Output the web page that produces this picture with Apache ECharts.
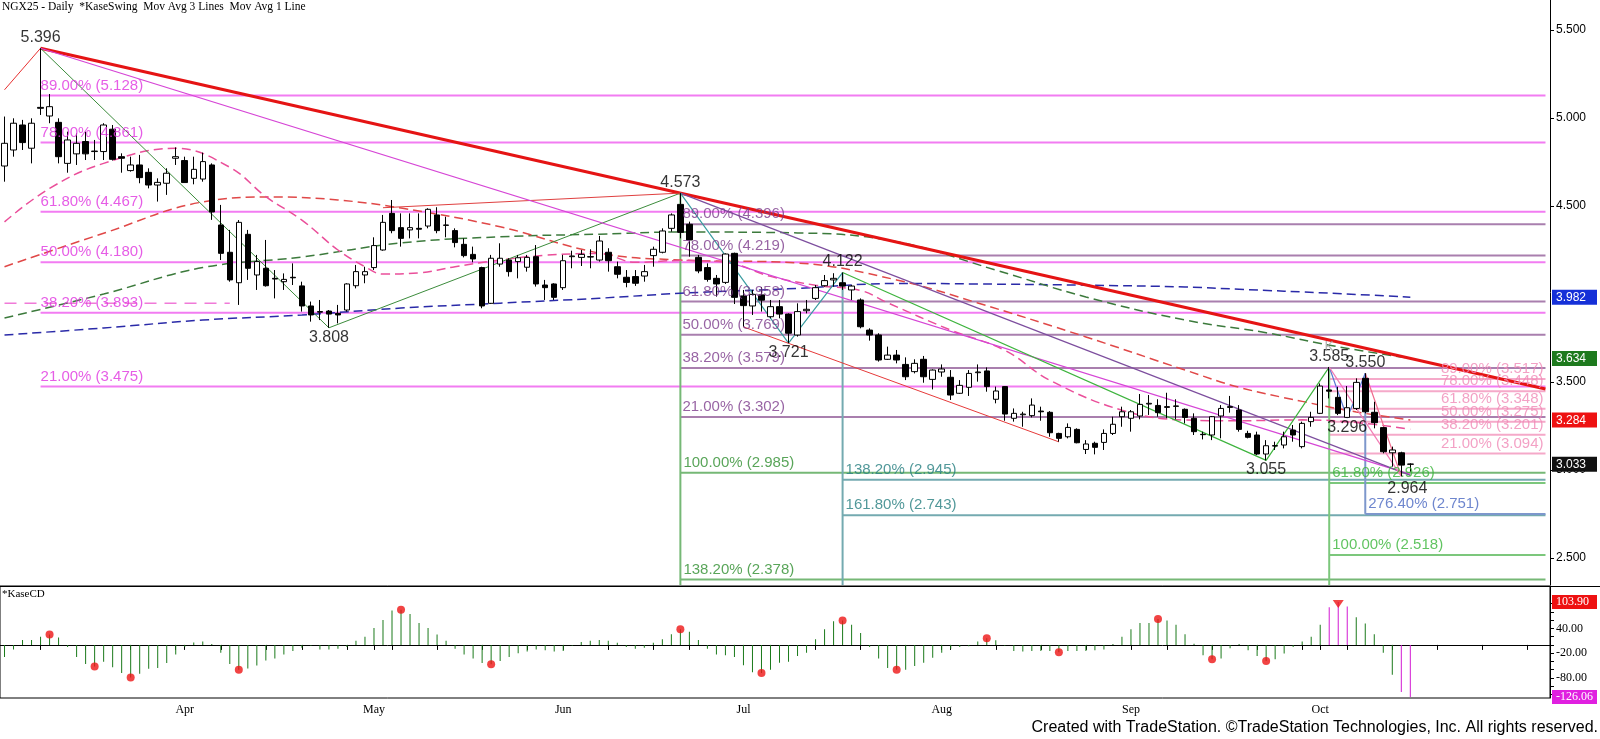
<!DOCTYPE html>
<html>
<head>
<meta charset="utf-8">
<title>NGX25 Daily</title>
<script src="https://cdn.jsdelivr.net/npm/echarts@6.0.0/dist/echarts.min.js"></script>
<style>
html,body{margin:0;padding:0;background:#fff;}
#chart{width:1600px;height:739px;}
</style>
</head>
<body>
<div id="chart"></div>
<script>
// ================= DATA =================
const SLOT_COUNT = 172;          // trading-day slots on the x axis (incl. empty future space)
const LAST_SLOT = 171;
const monthStartIdx = [20, 41, 62, 82, 104, 125, 146];
const monthNames = ['Apr', 'May', 'Jun', 'Jul', 'Aug', 'Sep', 'Oct'];
const weekStartIdx = [4,9,14,19,24,29,33,38,43,48,53,58,62,67,72,76,81,85,90,95,100,105,110,115,120,125,129,134,139,144,149,154,159,164,169];

const opens = [4.727,4.818,4.960,4.828,5.060,5.011,4.975,4.742,4.796,4.866,
4.809,4.809,4.936,4.780,4.701,4.733,4.691,4.619,4.629,4.771,
4.758,4.657,4.653,4.733,4.392,4.237,4.064,4.339,4.108,4.146,
4.089,4.070,4.095,4.046,3.932,3.900,3.903,3.890,3.909,4.047,
4.108,4.150,4.250,4.458,4.377,4.364,4.373,4.386,4.449,4.392,
4.360,4.282,4.225,4.150,3.947,4.170,4.193,4.184,4.152,4.212,
4.051,4.057,4.036,4.212,4.208,4.212,4.193,4.237,4.155,4.095,
4.099,4.102,4.218,4.237,4.373,4.509,4.396,4.208,4.150,4.089,
4.066,4.231,3.989,3.932,3.995,3.871,3.928,3.886,3.767,3.905,
3.975,4.047,4.080,4.064,4.023,3.966,3.795,3.767,3.629,3.653,
3.600,3.559,3.629,3.515,3.557,3.527,3.436,3.470,3.553,3.563,
3.402,3.474,3.294,3.314,3.309,3.335,3.328,3.208,3.189,3.231,
3.117,3.152,3.157,3.208,3.303,3.294,3.307,3.375,3.367,3.360,
3.364,3.345,3.294,3.203,3.199,3.307,3.360,3.341,3.208,3.199,
3.091,3.136,3.142,3.227,3.133,3.275,3.322,3.455,3.413,3.299,
3.350,3.521,3.328,3.241,3.098,3.098,3.034];
const highs = [5.008,4.998,4.989,4.998,5.396,5.136,4.998,4.922,4.913,4.922,
4.875,4.970,4.960,4.799,4.780,4.790,4.714,4.657,4.714,4.833,
4.780,4.780,4.803,4.742,4.506,4.364,4.420,4.364,4.222,4.307,
4.136,4.117,4.174,4.070,3.957,3.966,3.909,3.938,4.061,4.165,
4.155,4.322,4.449,4.534,4.458,4.458,4.458,4.487,4.493,4.439,
4.373,4.316,4.269,4.155,4.222,4.288,4.203,4.222,4.222,4.278,
4.080,4.061,4.222,4.246,4.250,4.254,4.330,4.260,4.184,4.136,
4.136,4.165,4.269,4.373,4.458,4.573,4.411,4.222,4.174,4.108,
4.231,4.235,4.023,4.023,4.040,3.966,3.966,3.890,3.947,3.966,
4.051,4.108,4.118,4.122,4.051,3.975,3.805,3.777,3.701,3.682,
3.640,3.629,3.648,3.572,3.600,3.568,3.511,3.568,3.600,3.583,
3.474,3.477,3.350,3.331,3.407,3.360,3.335,3.212,3.265,3.237,
3.170,3.161,3.231,3.303,3.360,3.341,3.432,3.426,3.402,3.439,
3.402,3.350,3.322,3.218,3.307,3.369,3.421,3.369,3.223,3.218,
3.170,3.161,3.218,3.256,3.275,3.331,3.492,3.585,3.473,3.477,
3.521,3.550,3.388,3.246,3.133,3.104,3.038];
const lows = [4.638,4.780,4.818,4.742,5.017,4.970,4.742,4.689,4.733,4.761,
4.761,4.761,4.758,4.689,4.695,4.629,4.600,4.525,4.563,4.733,
4.633,4.623,4.638,4.421,4.193,4.070,3.938,4.080,4.023,4.042,
3.975,4.023,4.051,3.900,3.843,3.852,3.808,3.833,3.900,4.032,
4.061,4.136,4.246,4.345,4.269,4.316,4.316,4.373,4.345,4.322,
4.265,4.208,4.180,3.919,3.943,4.155,4.099,4.089,4.127,4.042,
3.966,3.966,4.023,4.146,4.159,4.146,4.184,4.127,4.089,4.038,
4.046,4.070,4.155,4.231,4.354,4.316,4.212,4.118,4.070,3.985,
4.057,3.943,3.814,3.881,3.900,3.862,3.862,3.721,3.758,3.890,
3.966,4.042,4.042,4.023,3.966,3.805,3.735,3.616,3.625,3.606,
3.511,3.549,3.496,3.458,3.530,3.398,3.432,3.421,3.502,3.445,
3.379,3.280,3.275,3.246,3.299,3.280,3.189,3.161,3.180,3.152,
3.091,3.089,3.114,3.199,3.246,3.218,3.288,3.313,3.303,3.294,
3.288,3.265,3.199,3.174,3.170,3.180,3.326,3.218,3.180,3.085,
3.055,3.114,3.123,3.161,3.123,3.246,3.318,3.407,3.312,3.296,
3.341,3.322,3.237,3.095,3.019,2.964,2.990];
const closes = [4.856,4.970,4.860,4.970,5.055,5.064,4.780,4.875,4.856,4.796,
4.812,4.960,4.765,4.771,4.733,4.661,4.619,4.634,4.686,4.780,
4.633,4.708,4.752,4.466,4.231,4.080,4.407,4.146,4.184,4.047,
4.085,4.083,4.092,3.932,3.881,3.897,3.886,3.881,4.057,4.127,
4.127,4.275,4.407,4.360,4.316,4.377,4.368,4.481,4.360,4.390,
4.292,4.218,4.199,3.932,4.203,4.203,4.127,4.206,4.208,4.057,
4.036,3.981,4.189,4.216,4.225,4.210,4.301,4.189,4.112,4.066,
4.061,4.127,4.254,4.358,4.449,4.350,4.307,4.131,4.083,4.057,
4.227,3.981,3.934,3.998,3.965,3.928,3.886,3.777,3.900,3.913,
4.036,4.076,4.089,4.045,4.045,3.814,3.767,3.625,3.653,3.625,
3.530,3.606,3.530,3.568,3.574,3.426,3.481,3.549,3.557,3.474,
3.449,3.318,3.322,3.318,3.369,3.331,3.212,3.180,3.242,3.155,
3.148,3.129,3.208,3.260,3.331,3.331,3.373,3.379,3.326,3.356,
3.362,3.299,3.218,3.201,3.303,3.350,3.356,3.231,3.186,3.091,
3.138,3.139,3.189,3.199,3.265,3.299,3.477,3.448,3.322,3.354,
3.498,3.331,3.269,3.104,3.114,3.028,3.033];

// moving averages, [slot, value]
const maPink  = [[0,4.41],[5,4.60],[11,4.742],[19,4.828],[25,4.72],[29,4.553],[33,4.42],[37,4.25],[40,4.155],[42,4.113],[46,4.12],[50,4.155],[55,4.193],[60,4.22],[66,4.23],[70,4.18],[75,4.19],[80,4.18],[85,4.10],[90,4.05],[95,4.02],[98,3.95],[105,3.795],[111,3.68],[116,3.51],[124,3.34],[131,3.284],[137,3.28],[144,3.285],[150,3.27],[156,3.232]];
const maRed   = [[0,4.155],[11,4.345],[22,4.523],[30,4.551],[37,4.534],[44,4.488],[55,4.382],[66,4.233],[75,4.193],[88,4.176],[99,4.08],[108,3.949],[120,3.756],[131,3.568],[137,3.47],[144,3.39],[150,3.33],[156,3.284]];
const maGreen = [[0,3.864],[11,4.0],[22,4.15],[33,4.21],[44,4.29],[55,4.325],[66,4.34],[75,4.352],[88,4.347],[99,4.297],[110,4.136],[120,3.983],[131,3.852],[140,3.78],[148,3.70],[156,3.634]];
const maBlue  = [[0,3.767],[11,3.807],[22,3.852],[33,3.881],[44,3.92],[55,3.948],[66,3.976],[75,4.004],[88,4.032],[99,4.06],[108,4.057],[120,4.05],[131,4.04],[137,4.027],[147,4.005],[156,3.982]];
const oldFibDash = [[0,3.947],[25,3.947]];

// swing / trend lines, [slot, price]
const trendRedThick = [[4,5.396],[171,3.46]];
const trendRedLead  = [[0,5.16],[4,5.396]];
const swingGreenA   = [[4,5.396],[36,3.808],[75,4.573]];
const trendRedB     = [[42,4.49],[75,4.573]];
const trendMagenta  = [[4,5.396],[156,2.975]];
const trendPurple   = [[75,4.573],[156,2.97]];
const swingTeal     = [[75,4.573],[87,3.721],[93,4.122]];
const swingGreenB   = [[93,4.122],[140,3.055],[147,3.585]];
const swingBlue     = [[147,3.585],[149,3.296],[151,3.550]];
const swingPink     = [[151,3.550],[155,2.964]];
const swingPinkB    = [[147,3.585],[155,2.964]];
const channelRed    = [[82,3.813],[117,3.16]];
const kMarker       = [147, 3.70];

// Fibonacci level sets
const magAnchor = 4,   magLevels = [5.128,4.861,4.467,4.180,3.893,3.475], magPcts = ['89.00%','78.00%','61.80%','50.00%','38.20%','21.00%'];
const purAnchor = 75,  purLevels = [4.396,4.219,3.958,3.769,3.579,3.302], purPcts = ['89.00%','78.00%','61.80%','50.00%','38.20%','21.00%'];
const grnAnchor = 75,  grnLevels = [2.985,2.378], grnPcts = ['100.00%','138.20%'];
const tealAnchor = 93, tealLevels = [2.945,2.743], tealPcts = ['138.20%','161.80%'];
const grn2Anchor = 147, grn2Levels = [2.926,2.518], grn2Pcts = ['61.80%','100.00%'];
const bluAnchor = 151, bluLevels = [2.751], bluPcts = ['276.40%'];
const pinkAnchor = 147, pinkLevels = [3.517,3.448,3.348,3.275,3.201,3.094], pinkPcts = ['89.00%','78.00%','61.80%','50.00%','38.20%','21.00%'];
// vertical projection lines: [slot, from, to]
const vertGreen = [75, 4.573, 2.347];
const vertTeal  = [93, 4.122, 2.347];
const vertGreen2 = [147, 3.585, 2.347];
const vertBlue  = [151, 3.550, 2.751];

// swing point labels
const swingIdx   = [4, 36, 75, 87, 93, 140, 147, 149, 151, 155];
const swingPrice = [5.396, 3.808, 4.573, 3.721, 4.122, 3.055, 3.585, 3.296, 3.550, 2.964];
const swingKind  = ['H','L','H','L','H','L','H','L','H','L'];

// KaseCD
const kase = [-29,-11,12,12,20,25,18,-5,-29,-46,
-52,-41,-54,-68,-79,-70,-58,-56,-44,-23,
-5,6,8,2,-19,-46,-60,-57,-50,-38,
-33,-23,-15,-7,-2,-11,-11,-9,-5,10,
20,41,60,83,85,75,53,41,25,10,
-9,-23,-33,-44,-47,-39,-29,-20,-16,-11,
-13,-16,-15,-2,7,10,12,10,5,-5,
-9,-7,5,14,26,38,32,12,-9,-23,
-25,-29,-49,-66,-68,-60,-43,-41,-27,
-19,14,38,57,59,49,29,-5,-33,-56,
-60,-60,-51,-43,-31,-19,-9,-5,-3,8,
16,11,-2,-15,-16,-15,-15,-15,-18,-15,
-15,-15,-13,-11,2,20,38,53,53,63,
59,49,26,3,-25,-35,-33,-8,2,-13,
-27,-39,-35,-21,-5,8,20,49,91,103.9,
93,67,52,26,-19,-72,-114,-126.06];
const kaseDotIdx = [5,10,14,26,44,54,75,84,93,99,109,117,128,134,140];
const kaseMagentaIdx = [147,148,149,155,156];
const kasePeakIdx = 148;

// axes
const priceMin = 2.347, priceMax = 5.670;
const priceTicks = [2.5, 3.0, 3.5, 4.5, 5.0, 5.5];
const priceBoxVals = [3.237, 3.284, 3.982, 3.634, 3.033];
const kaseMin = -128.5, kaseMax = 142.6;
const kaseLabelVals = [40, -20, -80];
const kaseTickVals = [100,80,60,40,20,0,-20,-40,-60,-80,-100,-120];
const kaseBoxVals = [103.90, -126.06];

// ================= STYLE =================
const SANS = '"Liberation Sans", Arial, sans-serif';
const SERIF = '"Liberation Serif", "Times New Roman", serif';
const priceBoxStyle = ['pink','red','blue','green','black'];
const kaseBoxStyle = ['red','magenta'];
const boxRich = {
  pink:   {backgroundColor:'#f0399b', color:'#fff', padding:[2,3,1,4], width:38, fontSize:12, fontFamily:SANS},
  red:    {backgroundColor:'#ee1111', color:'#fff', padding:[2,3,1,4], width:38, fontSize:12, fontFamily:SANS},
  blue:   {backgroundColor:'#1530d8', color:'#fff', padding:[2,3,1,4], width:38, fontSize:12, fontFamily:SANS},
  green:  {backgroundColor:'#1e7a1e', color:'#fff', padding:[2,3,1,4], width:38, fontSize:12, fontFamily:SANS},
  black:  {backgroundColor:'#111111', color:'#fff', padding:[2,3,1,4], width:38, fontSize:12, fontFamily:SANS},
  magenta:{backgroundColor:'#e020e0', color:'#fff', padding:[1,3,1,4], width:38, fontSize:12, fontFamily:SERIF}
};
const boxRichKase = Object.assign({}, boxRich, {
  red: {backgroundColor:'#ee1111', color:'#fff', padding:[1,3,1,4], width:38, fontSize:12, fontFamily:SERIF}
});

// ================= BUILD =================
const slots = Array.from({length: SLOT_COUNT}, (_, i) => 's' + i);
const monthMap = new Map(monthStartIdx.map((d, i) => [d, monthNames[i]]));
const tickSet = new Set(weekStartIdx.concat(monthStartIdx));

const series = [];
function addLine(pts, color, width, type, z, smooth) {
  series.push({type:'line', xAxisIndex:0, yAxisIndex:0, data:pts, symbol:'none',
    smooth: smooth || false, silent:true, animation:false, z:z,
    lineStyle:{color:color, width:width, type:type || 'solid'}});
}

const fibSets = [
  {anchor:magAnchor,  levels:magLevels,  pcts:magPcts,  line:'#f27cf2', text:'#e034e0', side:'left',  off:0},
  {anchor:purAnchor,  levels:purLevels,  pcts:purPcts,  line:'#a97fae', text:'#7d3c8c', side:'left',  off:2},
  {anchor:grnAnchor,  levels:grnLevels,  pcts:grnPcts,  line:'#76b876', text:'#2f8f2f', side:'left',  off:3},
  {anchor:tealAnchor, levels:tealLevels, pcts:tealPcts, line:'#74aab0', text:'#267e80', side:'left',  off:3},
  {anchor:grn2Anchor, levels:grn2Levels, pcts:grn2Pcts, line:'#7cc77c', text:'#3ab53a', side:'left',  off:3},
  {anchor:bluAnchor,  levels:bluLevels,  pcts:bluPcts,  line:'#7d97cc', text:'#4a68c2', side:'left',  off:3},
  {anchor:pinkAnchor, levels:pinkLevels, pcts:pinkPcts, line:'#f5a9c9', text:'#f08ab6', side:'right', off:-2}
];
const fibLabelData = [];
fibSets.forEach(s => {
  s.levels.forEach((lv, i) => {
    addLine([[s.anchor, lv], [LAST_SLOT, lv]], s.line, 2, 'solid', 1);
    fibLabelData.push({
      value: [s.side === 'left' ? s.anchor : LAST_SLOT, lv],
      label: {align: s.side, offset: [s.off, 0], color: s.text, formatter: s.pcts[i] + ' (' + lv.toFixed(3) + ')'}
    });
  });
});
// vertical projection lines
addLine([[vertGreen[0], vertGreen[1]], [vertGreen[0], vertGreen[2]]], '#76b876', 2, 'solid', 1);
addLine([[vertTeal[0], vertTeal[1]], [vertTeal[0], vertTeal[2]]], '#74aab0', 2, 'solid', 1);
addLine([[vertGreen2[0], vertGreen2[1]], [vertGreen2[0], vertGreen2[2]]], '#7cc77c', 2, 'solid', 1);
addLine([[vertBlue[0], vertBlue[1]], [vertBlue[0], vertBlue[2]]], '#7d97cc', 2, 'solid', 1);

// moving averages
addLine(oldFibDash, '#f07ad8', 1.5, [12, 8], 2);
addLine(maBlue,  '#2a2aa8', 1.5, [9, 5], 2, 0.4);
addLine(maGreen, '#3c7a3c', 1.5, [9, 5], 2, 0.4);
addLine(maRed,   '#e04848', 1.5, [9, 5], 2, 0.4);
addLine(maPink,  '#ea4f9a', 1.5, [9, 5], 2, 0.4);

// swing and trend lines
addLine(trendRedThick, '#e51414', 3, 'solid', 3);
addLine(trendRedLead,  '#e83030', 1, 'solid', 3);
addLine(swingGreenA,   '#3c8c3c', 1, 'solid', 3);
addLine(trendRedB,     '#e04040', 1, 'solid', 3);
addLine(trendMagenta,  '#d646d6', 1.2, 'solid', 3);
addLine(trendPurple,   '#7d4e9e', 1.2, 'solid', 3);
addLine(swingTeal,     '#3a9ca0', 1.2, 'solid', 3);
addLine(swingGreenB,   '#3fb43f', 1.2, 'solid', 3);
addLine(swingBlue,     '#5a78d2', 1.2, 'solid', 3);
addLine(swingPink,     '#f06a8c', 1.2, 'solid', 3);
addLine(swingPinkB,    '#f27cb4', 1.2, 'solid', 3);
addLine(channelRed,    '#e63a3a', 1, 'solid', 3);

// candles
series.push({
  type:'candlestick', xAxisIndex:0, yAxisIndex:0, z:4, silent:true, animation:false,
  barWidth:6,
  data: opens.map((o, i) => [o, closes[i], lows[i], highs[i]]),
  itemStyle:{color:'#ffffff', color0:'#000000', borderColor:'#000000', borderColor0:'#000000', borderWidth:1}
});

// fib labels
series.push({
  type:'scatter', xAxisIndex:0, yAxisIndex:0, z:6, silent:true, animation:false,
  symbolSize:1, itemStyle:{color:'rgba(0,0,0,0)'},
  label:{show:true, position:'top', distance:2, fontSize:15, fontFamily:SANS},
  data: fibLabelData
});
// swing labels
series.push({
  type:'scatter', xAxisIndex:0, yAxisIndex:0, z:7, silent:true, animation:false,
  symbolSize:1, itemStyle:{color:'rgba(0,0,0,0)'},
  label:{show:true, fontSize:16, fontFamily:SANS, color:'#000'},
  data: swingIdx.map((x, i) => ({
    value:[x, swingPrice[i]],
    label:{position: swingKind[i] === 'H' ? 'top' : 'bottom', distance: swingKind[i] === 'H' ? 2 : 1,
           offset: (x === 155 ? [6, 3] : [0, 0]), formatter: swingPrice[i].toFixed(3)}
  }))
});
// KaseSwing "K" marker
series.push({
  type:'scatter', xAxisIndex:0, yAxisIndex:0, z:7, silent:true, animation:false,
  symbolSize:1, itemStyle:{color:'rgba(0,0,0,0)'},
  label:{show:true, position:'inside', fontSize:14, fontFamily:SANS, color:'#a0a0a0', formatter:'K'},
  data: [kMarker]
});

// KaseCD histogram
series.push({
  type:'bar', xAxisIndex:1, yAxisIndex:2, barWidth:1, silent:true, animation:false,
  data: kase.map((v, i) => ({value:v, itemStyle:{color: kaseMagentaIdx.includes(i) ? '#d21ad2' : '#1b7a1b'}}))
});
series.push({
  type:'scatter', xAxisIndex:1, yAxisIndex:2, symbolSize:8, silent:true, animation:false, z:5,
  itemStyle:{color:'#ee1515'},
  data: kaseDotIdx.map(i => [i, kase[i]])
});
series.push({
  type:'scatter', xAxisIndex:1, yAxisIndex:2, symbol:'triangle', symbolRotate:180, symbolSize:[11,8], symbolOffset:[0,2],
  silent:true, animation:false, z:5, itemStyle:{color:'#ee1515'},
  data: [[kasePeakIdx, kase[kasePeakIdx]]]
});

function nearestIdx(arr, v) {
  let b = 0; arr.forEach((a, i) => { if (Math.abs(a - v) < Math.abs(arr[b] - v)) b = i; }); return b;
}

const option = {
  backgroundColor:'#ffffff',
  animation:false,
  grid:[
    {left:-1, right:50, top:0, height:585},
    {left:-1, right:50, top:586, height:112, show:true, borderColor:'#000', borderWidth:1, backgroundColor:'rgba(0,0,0,0)'}
  ],
  xAxis:[
    {gridIndex:0, type:'category', data:slots, show:false, boundaryGap:true},
    {gridIndex:1, type:'category', data:slots, boundaryGap:true,
      axisLine:{show:true, lineStyle:{color:'#000'}},
      axisTick:{show:true, alignWithLabel:true, length:5, interval:(i) => tickSet.has(i), lineStyle:{color:'#000'}},
      axisLabel:{show:true, interval:(i) => monthMap.has(i), formatter:(v, i) => monthMap.get(i) || '',
                 fontFamily:SERIF, fontSize:12, color:'#000', margin:6},
      splitLine:{show:false}}
  ],
  yAxis:[
    {gridIndex:0, type:'value', position:'right', min:priceMin, max:priceMax, splitLine:{show:false},
      axisLine:{show:true, lineStyle:{color:'#000'}},
      axisTick:{show:true, length:4, customValues:priceTicks, lineStyle:{color:'#000'}},
      axisLabel:{customValues:priceTicks, formatter:(v) => v.toFixed(3), margin:6, fontSize:12, color:'#000', fontFamily:SANS}},
    {gridIndex:0, type:'value', position:'right', min:priceMin, max:priceMax, splitLine:{show:false},
      axisLine:{show:false}, axisTick:{show:false},
      axisLabel:{customValues:priceBoxVals, margin:2, align:'left',
        formatter:(v) => { const k = nearestIdx(priceBoxVals, v); return '{' + priceBoxStyle[k] + '|' + priceBoxVals[k].toFixed(3) + '}'; },
        rich:boxRich}},
    {gridIndex:1, type:'value', position:'right', min:kaseMin, max:kaseMax, splitLine:{show:false},
      axisLine:{show:true, lineStyle:{color:'#000'}},
      axisTick:{show:true, length:4, customValues:kaseTickVals, lineStyle:{color:'#000'}},
      axisLabel:{customValues:kaseLabelVals, formatter:(v) => v.toFixed(2), margin:6, fontSize:12, color:'#000', fontFamily:SERIF}},
    {gridIndex:1, type:'value', position:'right', min:kaseMin, max:kaseMax, splitLine:{show:false},
      axisLine:{show:false}, axisTick:{show:false},
      axisLabel:{customValues:kaseBoxVals, margin:2, align:'left',
        formatter:(v) => { const k = nearestIdx(kaseBoxVals, v); return '{' + kaseBoxStyle[k] + '|' + kaseBoxVals[k].toFixed(2) + '}'; },
        rich:boxRichKase}}
  ],
  graphic:[
    {type:'text', left:2, top:1, z:100, style:{text:'NGX25 - Daily  *KaseSwing  Mov Avg 3 Lines  Mov Avg 1 Line', fontSize:11.5, fontFamily:SERIF, fill:'#000'}},
    {type:'text', left:2, top:589, z:100, style:{text:'*KaseCD', fontSize:11, fontFamily:SERIF, fill:'#000'}},
    {type:'text', right:2, top:720, z:100, style:{text:'Created with TradeStation. \u00A9TradeStation Technologies, Inc. All rights reserved.', fontSize:16, fontFamily:SANS, fill:'#000'}},
    {type:'line', z:100, shape:{x1:0, y1:586.5, x2:1600, y2:586.5}, style:{stroke:'#000', lineWidth:1}}
  ],
  series: series
};

const chart = echarts.init(document.getElementById('chart'), null, {renderer:'canvas', width:1600, height:739});
chart.setOption(option);
</script>
</body>
</html>
